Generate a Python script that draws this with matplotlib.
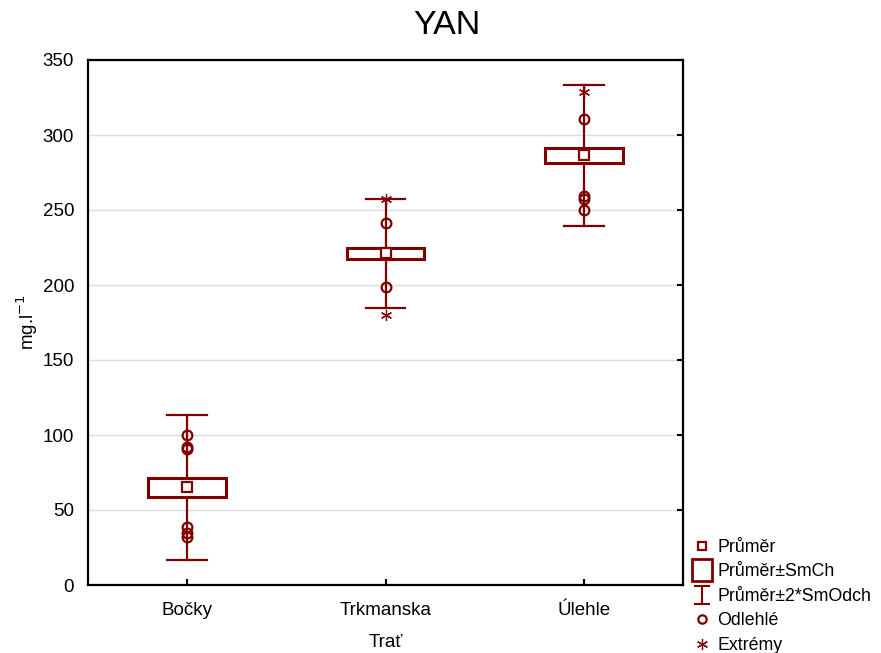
import matplotlib
matplotlib.use("Agg")
import matplotlib.pyplot as plt
from matplotlib.lines import Line2D
from matplotlib.patches import Rectangle
from matplotlib.legend_handler import HandlerBase
import numpy as np

plt.rcParams['font.family'] = ['Liberation Sans', 'DejaVu Sans']

categories = ["Bočky", "Trkmanska", "Úlehle"]
means = [65.2, 221.6, 286.9]
se_low = [59.0, 217.1, 281.1]
se_high = [71.2, 224.4, 291.3]
sd2_low = [16.7, 184.7, 239.5]
sd2_high = [113.5, 257.1, 333.3]
outliers = [
    [100.0, 92.0, 90.8, 38.7, 34.8, 32.2],
    [241.6, 198.9],
    [310.9, 259.5, 257.1, 249.8],
]
extremes = [
    [],
    [257.3, 180.0],
    [329.0],
]

color = "#800000"
fs = 13.5

fig = plt.figure(figsize=(8.81, 6.53), dpi=100)
ax = fig.add_axes([88 / 881, 1 - 585 / 653, 595 / 881, 525 / 653])

box_hw = 0.195
cap_hw = 0.1
for i in range(len(categories)):
    ax.plot([i, i], [sd2_low[i], se_low[i]], color=color, lw=1.6, zorder=3)
    ax.plot([i, i], [se_high[i], sd2_high[i]], color=color, lw=1.6, zorder=3)
    ax.plot([i - cap_hw, i + cap_hw], [sd2_low[i]] * 2, color=color, lw=1.6, zorder=3)
    ax.plot([i - cap_hw, i + cap_hw], [sd2_high[i]] * 2, color=color, lw=1.6, zorder=3)
    ax.add_patch(Rectangle((i - box_hw, se_low[i]), 2 * box_hw, se_high[i] - se_low[i],
                           facecolor="white", edgecolor=color, lw=2.2, zorder=4))
    ax.plot([i], [means[i]], marker="s", ms=7, mfc="white", mec=color, mew=1.6, zorder=5)
    if outliers[i]:
        ax.plot([i] * len(outliers[i]), outliers[i], ls="none", marker="o", ms=7,
                mfc="none", mec=color, mew=1.6, zorder=5)
    if extremes[i]:
        ax.plot([i] * len(extremes[i]), extremes[i], ls="none", marker=(6, 2, 0), ms=8,
                mec=color, mew=0.9, zorder=5)

ax.set_xlim(-0.5, 2.5)
ax.set_ylim(0, 350)
ax.set_yticks(np.arange(0, 351, 50))
ax.set_xticks(range(len(categories)))
ax.set_xticklabels(categories)
ax.grid(axis="y", color="#dcdcdc", lw=1)
ax.set_axisbelow(True)
for s in ax.spines.values():
    s.set_linewidth(1.6)
ax.tick_params(axis="both", direction="in", labelsize=fs, length=4, width=1.5,
               right=True, top=False)
ax.tick_params(axis="x", pad=12)
ax.tick_params(axis="y", left=False, pad=10)
ax.set_xlabel("Trať", fontsize=fs, labelpad=11)

fig.text(27 / 881, 1 - 322 / 653, "mg.l$^{-1}$", fontsize=fs, rotation=90,
         ha="center", va="center")
fig.text(447 / 881, 1 - 25 / 653, "YAN", fontsize=24.5, ha="center", va="center")


class HandlerSE(HandlerBase):
    def create_artists(self, legend, orig, xd, yd, w, h, fs, trans):
        r = Rectangle((w / 2 - 7.5, h / 2 - 8), 15, 16, facecolor="white",
                      edgecolor=color, lw=2, transform=trans)
        return [r]


class HandlerSD(HandlerBase):
    def create_artists(self, legend, orig, xd, yd, w, h, fs, trans):
        cx = w / 2
        arts = [
            Line2D([cx, cx], [h / 2 - 6.5, h / 2 + 6.5], color=color, lw=1.5, transform=trans),
            Line2D([cx - 5, cx + 5], [h / 2 - 6.5] * 2, color=color, lw=1.5, transform=trans),
            Line2D([cx - 5, cx + 5], [h / 2 + 6.5] * 2, color=color, lw=1.5, transform=trans),
        ]
        return arts


h_mean = Line2D([], [], ls="none", marker="s", ms=6, mfc="white", mec=color, mew=1.6)
h_se = object()
h_sd = object()
h_out = Line2D([], [], ls="none", marker="o", ms=6, mfc="none", mec=color, mew=1.6)
h_ext = Line2D([], [], ls="none", marker=(6, 2, 0), ms=8, mec=color, mew=0.9)

leg_labels = ["Průměr", "Průměr±SmCh", "Průměr±2*SmOdch", "Odlehlé", "Extrémy"]
fig.legend([h_mean, h_se, h_sd, h_out, h_ext], leg_labels,
           handler_map={h_se: HandlerSE(), h_sd: HandlerSD()},
           loc="lower left", bbox_to_anchor=(686 / 881, -0.012), frameon=False,
           fontsize=12.8, handlelength=1.0, handletextpad=0.35, labelspacing=0.42,
           borderaxespad=0)

fig.savefig("out.png", dpi=100)
